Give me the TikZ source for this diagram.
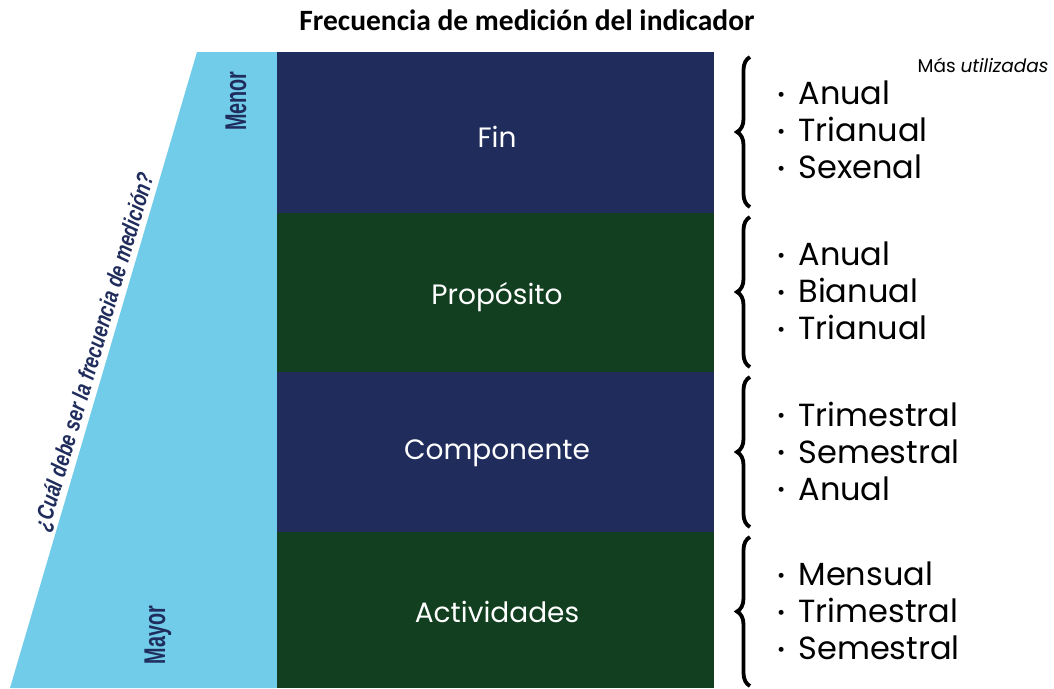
\documentclass[tikz,border=0pt]{standalone}
\usepackage{fontspec}
\setmainfont{Poppins}
\newfontfamily\titlefont{Carlito}
\newfontfamily\sidefont{Liberation Sans}
\newfontfamily\qfont[FakeStretch=0.78, UprightFont={* Bold Italic}]{Liberation Sans}
\usetikzlibrary{decorations.pathreplacing}
\definecolor{navy}{RGB}{31,44,92}
\definecolor{dgreen}{RGB}{17,63,31}
\definecolor{lblue}{RGB}{112,204,232}
\tikzset{
  rowbox/.style={draw=none, minimum width=437pt, minimum height=#1, inner sep=0pt, anchor=north west},
  rowlabel/.style={text=white, font=\fontsize{28}{32}\selectfont},
  sidelabel/.style={text=navy, font=\sidefont\bfseries\fontsize{30}{32}\selectfont, rotate=90},
  freq/.style={anchor=west, align=left, font=\fontsize{32}{37}\selectfont, inner sep=0pt},
  bracestyle/.style={decorate, decoration={brace, amplitude=13pt}, line width=3.8pt, black}
}
\newcommand{\itm}[1]{\raisebox{0.1em}{\fontsize{20}{20}\selectfont•}\hspace{13pt}#1}
\begin{document}
\begin{tikzpicture}[x=1pt,y=-1pt]
\useasboundingbox (0,0) rectangle (1054,688);
\node[font=\titlefont\bfseries\fontsize{29.5}{32}\selectfont] (title) at (527,20) {Frecuencia de medición del indicador};
% triangle
\fill[lblue] (197,52) -- (277,52) -- (277,688) -- (10,688) -- cycle;
% rows
\node[rowbox=161pt, fill=navy] (r1) at (277,52) {};
\node[rowbox=159pt, fill=dgreen] (r2) at (277,213) {};
\node[rowbox=160pt, fill=navy] (r3) at (277,372) {};
\node[rowbox=156pt, fill=dgreen] (r4) at (277,532) {};
\node[rowlabel] (l1) at (497,137) {Fin};
\node[rowlabel] (l2) at (497,297) {Propósito};
\node[rowlabel] (l3) at (497,453) {Componente};
\node[rowlabel] (l4) at (497,612) {Actividades};
% side labels
\node[sidelabel] (menor) at (236,101) {\scalebox{0.66}[1]{Menor}};
\node[sidelabel] (mayor) at (158,635) {\scalebox{0.66}[1]{Mayor}};
\node[text=navy, font=\qfont\fontsize{23.5}{26}\selectfont, rotate=73.5] (q) at (95,352) {¿Cuál debe ser la frecuencia de medición?};
% braces
\coordinate (b1a) at (750,207); \coordinate (b1b) at (750,57);
\coordinate (b2a) at (750,367); \coordinate (b2b) at (750,217);
\coordinate (b3a) at (750,527); \coordinate (b3b) at (750,377);
\coordinate (b4a) at (750,686); \coordinate (b4b) at (750,537);
\draw[bracestyle] (b1a) -- (b1b);
\draw[bracestyle] (b2a) -- (b2b);
\draw[bracestyle] (b3a) -- (b3b);
\draw[bracestyle] (b4a) -- (b4b);
% lists
\node[font=\fontsize{18.5}{20}\selectfont] (mas) at (983,65) {Más \textit{utilizadas}};
\node[freq] (f1) at (777,130) {\itm{Anual}\\\itm{Trianual}\\\itm{Sexenal}};
\node[freq] (f2) at (777,291) {\itm{Anual}\\\itm{Bianual}\\\itm{Trianual}};
\node[freq] (f3) at (777,451) {\itm{Trimestral}\\\itm{Semestral}\\\itm{Anual}};
\node[freq] (f4) at (777,611) {\itm{Mensual}\\\itm{Trimestral}\\\itm{Semestral}};
\end{tikzpicture}
\end{document}
